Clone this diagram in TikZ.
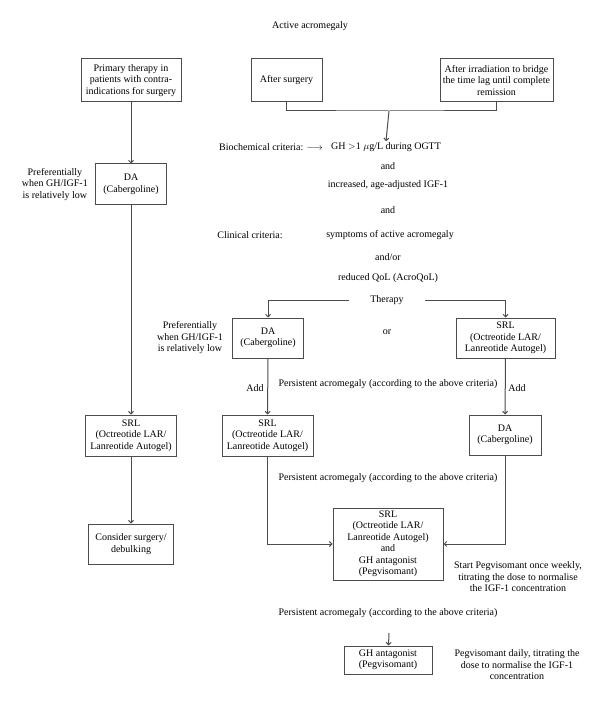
\documentclass[tikz,border=0pt]{standalone}
\usepackage{fontspec}
\setmainfont{Liberation Serif}
\usetikzlibrary{
    arrows.meta,
    positioning,
    calc
}

\begin{document}
\begin{tikzpicture}[
    x=1pt, y=-1pt,
    font=\fontsize{10}{11.5}\selectfont,
    box/.style={rectangle, align=center, draw=black!70, line width=1pt,
                inner sep=2pt},
    txt/.style={align=center, inner sep=1pt},
    line/.style={draw=black!70, line width=1pt},
    arrow/.style={line, -{Straight Barb[length=2.5pt, width=5pt]}}
]
    \useasboundingbox (0,0) rectangle (600,703);

    % Title
    \node (title) [txt] at (310,26) {Active acromegaly};

    % Left column
    \node (primary) [box, minimum width=100pt, minimum height=43pt] at (131,80.5)
        {Primary therapy in\\patients with contra-\\indications for surgery};
    \node (daL) [box, minimum width=71pt, minimum height=41pt] at (131,184.5)
        {DA\\(Cabergoline)};
    \node (prefL) [txt, left=6pt of daL] {Preferentially\\when GH/IGF-1\\is relatively low};
    \node (srlL) [box, minimum width=91pt, minimum height=41pt] at (131,435.5)
        {SRL\\(Octreotide LAR/\\Lanreotide Autogel)};
    \node (surg) [box, minimum width=85pt, minimum height=40pt] at (131,544)
        {Consider surgery/\\debulking};

    % Top boxes
    \node (aftsurg) [box, minimum width=71pt, minimum height=43pt] at (286.5,80.5) {After surgery};
    \node (irrad) [box, minimum width=113pt, minimum height=43pt] at (496.5,80.5)
        {After irradiation to bridge\\the time lag until complete\\remission};
    \coordinate (join) at (389,111);

    % Criteria
    \node (gh) [txt] at (386,147) {GH $>$1 $\mu$g/L during OGTT};
    \node (biochem) [txt, anchor=east] at (324,147) {Biochemical criteria: $\longrightarrow$};
    \node (and1) [txt] at (388,166) {and};
    \node (igf) [txt] at (388,185) {increased, age-adjusted IGF-1};
    \node (and2) [txt] at (388,210) {and};
    \node (clin) [txt] at (250,235) {Clinical criteria:};
    \node (sympt) [txt] at (390,235) {symptoms of active acromegaly};
    \node (andor) [txt] at (388,257) {and/or};
    \node (qol) [txt] at (388,278) {reduced QoL (AcroQoL)};
    \node (therapy) [txt, minimum width=76pt] at (387,300) {Therapy};
    \node (or) [txt] at (387,332) {or};

    % Therapy branches
    \node (daM) [box, minimum width=71pt, minimum height=40pt] at (268,338) {DA\\(Cabergoline)};
    \node (prefM) [txt] at (190,338) {Preferentially\\when GH/IGF-1\\is relatively low};
    \node (srlR) [box, minimum width=99pt, minimum height=40pt] at (505.5,338)
        {SRL\\(Octreotide LAR/\\Lanreotide Autogel)};
    \node (persist1) [txt] at (388,384) {Persistent acromegaly (according to the above criteria)};
    \node (addL) [txt] at (255,388) {Add};
    \node (addR) [txt] at (517,388) {Add};
    \node (srlM) [box, minimum width=91pt, minimum height=41pt] at (267.5,435.5)
        {SRL\\(Octreotide LAR/\\Lanreotide Autogel)};
    \node (daR) [box, minimum width=72pt, minimum height=40pt] at (505,435) {DA\\(Cabergoline)};
    \node (persist2) [txt] at (388,478) {Persistent acromegaly (according to the above criteria)};

    % Combination
    \node (combo) [box, minimum width=110pt, minimum height=72pt] at (388,544)
        {SRL\\(Octreotide LAR/\\Lanreotide Autogel)\\and\\GH antagonist\\(Pegvisomant)};
    \node (weekly) [txt] at (518,577)
        {Start Pegvisomant once weekly,\\titrating the dose to normalise\\the IGF-1 concentration};
    \node (persist3) [txt] at (388,613) {Persistent acromegaly (according to the above criteria)};
    \coordinate (p3end) at (389,633);
    \node (ghant) [box, minimum width=88pt, minimum height=28pt] at (388,660)
        {GH antagonist\\(Pegvisomant)};
    \node (daily) [txt] at (517,665)
        {Pegvisomant daily, titrating the\\dose to normalise the IGF-1\\concentration};

    % Connections
    \draw [arrow] (primary) -- (daL);
    \draw [arrow] (daL) -- (srlL);
    \draw [arrow] (srlL) -- (surg);
    \draw [line] (aftsurg.south) |- (join) -| (irrad.south);
    \draw [arrow] (join) -- (gh.north);
    \draw [arrow] (therapy.west) -| (daM.north);
    \draw [arrow] (therapy.east) -| (srlR.north);
    \draw [arrow] (daM) -- (srlM);
    \draw [arrow] (srlR) -- (daR);
    \draw [arrow] (srlM.south) |- (combo.west);
    \draw [arrow] (daR.south) |- (combo.east);
    \draw [arrow] (p3end) -- (ghant);

\end{tikzpicture}
\end{document}
